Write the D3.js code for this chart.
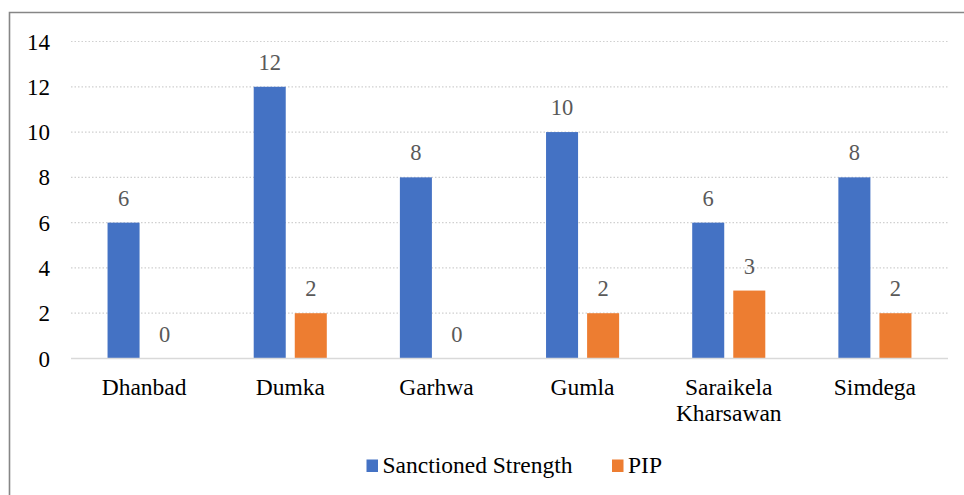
<!DOCTYPE html>
<html>
<head>
<meta charset="utf-8">
<script src="https://cdn.jsdelivr.net/npm/d3@7"></script>
</head>
<body style="margin:0">
<svg id="chart" width="964" height="495"></svg>
<script>
const categories = ["Dhanbad", "Dumka", "Garhwa", "Gumla", "Saraikela Kharsawan", "Simdega"];
const seriesNames = ["Sanctioned Strength", "PIP"];
const sanctioned = [6, 12, 8, 10, 6, 8];
const pip = [0, 2, 0, 2, 3, 2];
const yTicks = [0, 2, 4, 6, 8, 10, 12, 14];
const colors = ["#4472C4", "#ED7D31"];

(function () {
const seriesValues = [sanctioned, pip];
const svg = d3.select("#chart");
const FONT = "'Liberation Serif'";

// outer border (cropped at right/bottom)
svg.append("path")
  .attr("d", "M9.5,500 L9.5,12.5 L970,12.5")
  .attr("fill", "none").attr("stroke", "#868686").attr("stroke-width", 1.6);

const pLeft = 71, pRight = 948, pTop = 41.5, pBottom = 358.5;
const x0 = d3.scaleBand().domain(categories).range([pLeft, pRight]).paddingInner(0).paddingOuter(0);
const bw = x0.bandwidth();
const x1 = d3.scaleBand().domain(seriesNames).range([bw * 0.25, bw * 0.75]).paddingInner(0.22).paddingOuter(0);
const y = d3.scaleLinear().domain([0, 14]).range([pBottom, pTop]);

// gridlines
svg.append("g").selectAll("line").data(yTicks.filter(d => d > 0)).join("line")
  .attr("x1", pLeft).attr("x2", pRight)
  .attr("y1", d => y(d)).attr("y2", d => y(d))
  .attr("stroke", "#d0d0d0").attr("stroke-width", 1.2).attr("stroke-dasharray", "1.5,2");

// y axis labels (drawn through the scale's ticks)
svg.append("g").selectAll("text").data(yTicks).join("text")
  .attr("x", 50).attr("y", d => y(d)).attr("dy", "0.35em")
  .attr("text-anchor", "end").attr("fill", "#000")
  .style("font-family", FONT).style("font-size", "23px")
  .text(d => d);

// bars
const data = [];
categories.forEach((c, i) => seriesNames.forEach((s, j) => data.push({ c, s, j, v: seriesValues[j][i] })));

svg.append("g").selectAll("rect").data(data).join("rect")
  .attr("x", d => x0(d.c) + x1(d.s))
  .attr("width", x1.bandwidth())
  .attr("y", d => y(d.v))
  .attr("height", d => y(0) - y(d.v))
  .attr("fill", d => colors[d.j]);

// baseline
svg.append("line").attr("x1", pLeft).attr("x2", pRight).attr("y1", y(0)).attr("y2", y(0))
  .attr("stroke", "#d9d9d9").attr("stroke-width", 1.6);

// data labels
svg.append("g").selectAll("text").data(data).join("text")
  .attr("x", d => x0(d.c) + x1(d.s) + x1.bandwidth() / 2)
  .attr("y", d => y(d.v) - 17)
  .attr("text-anchor", "middle").attr("fill", "#595959")
  .style("font-family", FONT).style("font-size", "22.5px")
  .text(d => d.v);

// x labels
const xl = svg.append("g").selectAll("text").data(categories).join("text")
  .attr("x", d => x0(d) + bw / 2)
  .attr("y", 395)
  .attr("text-anchor", "middle").attr("fill", "#000")
  .style("font-family", FONT).style("font-size", "23.5px");
xl.each(function (d) {
  const words = d.split(" ");
  const t = d3.select(this);
  words.forEach((w, i) => t.append("tspan").attr("x", x0(d) + bw / 2).attr("dy", i === 0 ? 0 : 25.5).text(w));
});

// legend
const legendItems = [{ name: seriesNames[0], x: 366.5 }, { name: seriesNames[1], x: 612 }];
const lg = svg.append("g").selectAll("g").data(legendItems).join("g");
lg.append("rect").attr("x", d => d.x).attr("y", 459.5).attr("width", 11.5).attr("height", 12.5)
  .attr("fill", (d, i) => colors[i]);
lg.append("text").attr("x", d => d.x + 16).attr("y", 473).attr("fill", "#000")
  .style("font-family", FONT).style("font-size", "23.5px")
  .text(d => d.name);
})();
</script>
</body>
</html>
